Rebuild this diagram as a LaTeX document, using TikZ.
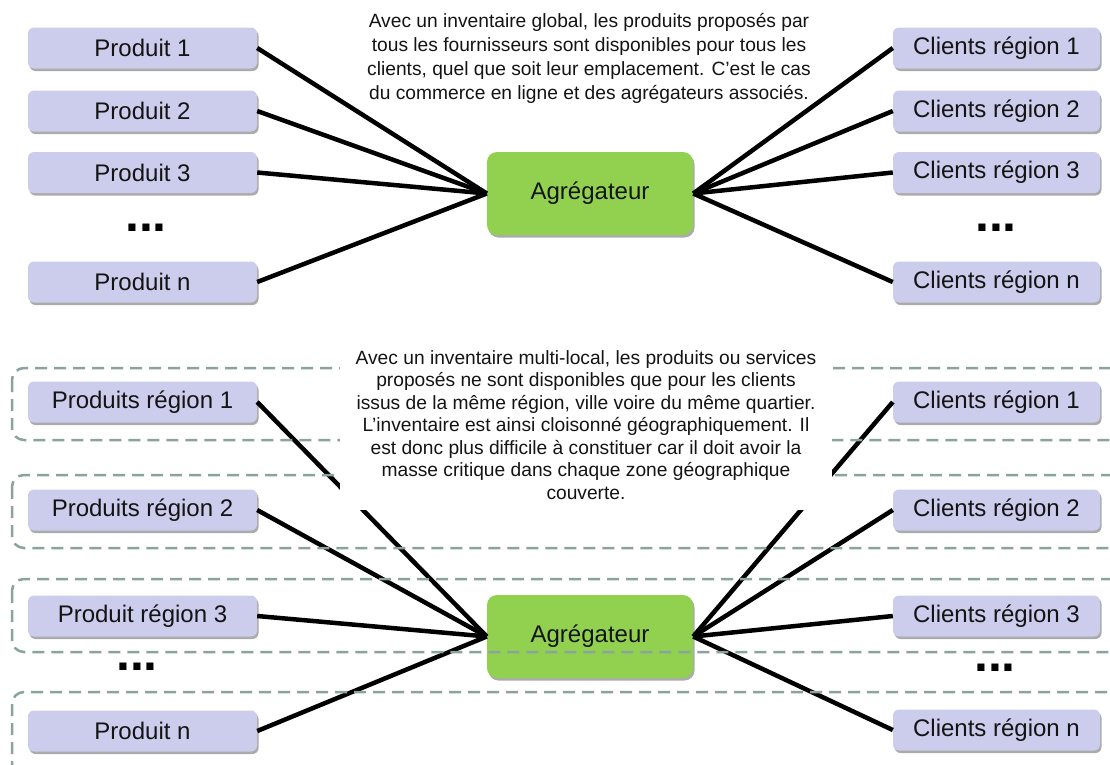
\documentclass[tikz,border=0pt]{standalone}
\usepackage{fontspec}
\setmainfont{Liberation Sans}
\usetikzlibrary{shadows}
\definecolor{lav}{RGB}{204,204,236}
\definecolor{agr}{RGB}{146,208,80}
\definecolor{dsh}{RGB}{138,163,158}
\definecolor{ink}{RGB}{20,20,20}
\begin{document}
\begin{tikzpicture}[x=1pt,y=-1pt,
  box/.style={fill=lav, rounded corners=6pt, minimum height=41pt, inner sep=0pt,
    font=\fontsize{24}{28}\selectfont, text=ink,
    drop shadow={shadow xshift=1.5pt, shadow yshift=-2.5pt, fill=black!55, opacity=0.6}},
  lbox/.style={box, minimum width=229pt},
  rbox/.style={box, minimum width=207pt},
  agg/.style={fill=agr, rounded corners=10pt, minimum width=206pt, minimum height=83pt, inner sep=0pt,
    font=\fontsize{24}{28}\selectfont, text=ink,
    drop shadow={shadow xshift=1.5pt, shadow yshift=-2.5pt, fill=black!55, opacity=0.6}},
  link/.style={line width=4.5pt, black},
  zone/.style={draw=dsh, line width=2.5pt, dash pattern=on 12pt off 7pt, rounded corners=12pt},
  dots/.style={font=\fontsize{50}{50}\selectfont\bfseries, inner sep=0pt, text=black},
  desc/.style={align=center, text=ink, inner sep=0pt}
]
\useasboundingbox (0,0) rectangle (1110,764);
\clip (0,0) rectangle (1110,764);
\fill[white] (0,0) rectangle (1110,764);

% ---------- top section ----------
\node[lbox] (p1) at (142.5,48) {Produit 1};
\node[lbox] (p2) at (142.5,111) {Produit 2};
\node[lbox] (p3) at (142.5,172.5) {Produit 3};
\node[lbox] (pn) at (142.5,282) {Produit n};
\node[dots] (pd) at (146,228) {...};

\node[rbox] (c1) at (996.5,48) {Clients région 1};
\node[rbox] (c2) at (996.5,111) {Clients région 2};
\node[rbox] (c3) at (996.5,172.5) {Clients région 3};
\node[rbox] (cn) at (996.5,282) {Clients région n};
\node[dots] (cd) at (996,228) {...};

\node[agg] (a1) at (590,193.5) {Agrégateur};

\foreach \n in {p1,p2,p3,pn} \draw[link] (\n.east) -- (a1.west);
\foreach \n in {c1,c2,c3,cn} \draw[link] (a1.east) -- (\n.west);

\node[desc, font=\fontsize{19.2}{24}\selectfont] (t1) at (589,58)
  {Avec un inventaire global, les produits proposés par\\
   tous les fournisseurs sont disponibles pour tous les\\
   clients, quel que soit leur emplacement. C’est le cas\\
   du commerce en ligne et des agrégateurs associés.};

% ---------- bottom section ----------
\node[lbox] (q1) at (142.5,402) {Produits région 1};
\node[lbox] (q2) at (142.5,510) {Produits région 2};
\node[lbox] (q3) at (142.5,616) {Produit région 3};
\node[lbox] (qn) at (142.5,731) {Produit n};
\node[dots] (qd) at (137,667) {...};

\node[rbox] (r1) at (996.5,402) {Clients région 1};
\node[rbox] (r2) at (996.5,510) {Clients région 2};
\node[rbox] (r3) at (996.5,616) {Clients région 3};
\node[rbox] (rn) at (996.5,730) {Clients région n};
\node[dots] (rd) at (995,668) {...};

\node[agg] (a2) at (590,636.5) {Agrégateur};

\foreach \n in {q1,q2,q3,qn} \draw[link] (\n.east) -- (a2.west);
\foreach \n in {r1,r2,r3,rn} \draw[link] (a2.east) -- (\n.west);

% dashed regional zones
\draw[zone] (12,368) rectangle (1140,440);
\draw[zone] (12,475) rectangle (1140,548);
\draw[zone] (12,579) rectangle (1140,652);
\draw[zone] (12,692) rectangle (1140,800);

\node[desc, fill=white, minimum width=492pt, minimum height=170pt,
      font=\fontsize{19.2}{22.5}\selectfont] (t2) at (586,425)
  {Avec un inventaire multi-local, les produits ou services\\
   proposés ne sont disponibles que pour les clients\\
   issus de la même région, ville voire du même quartier.\\
   L’inventaire est ainsi cloisonné géographiquement. Il\\
   est donc plus difficile à constituer car il doit avoir la\\
   masse critique dans chaque zone géographique\\
   couverte.};
\end{tikzpicture}
\end{document}
